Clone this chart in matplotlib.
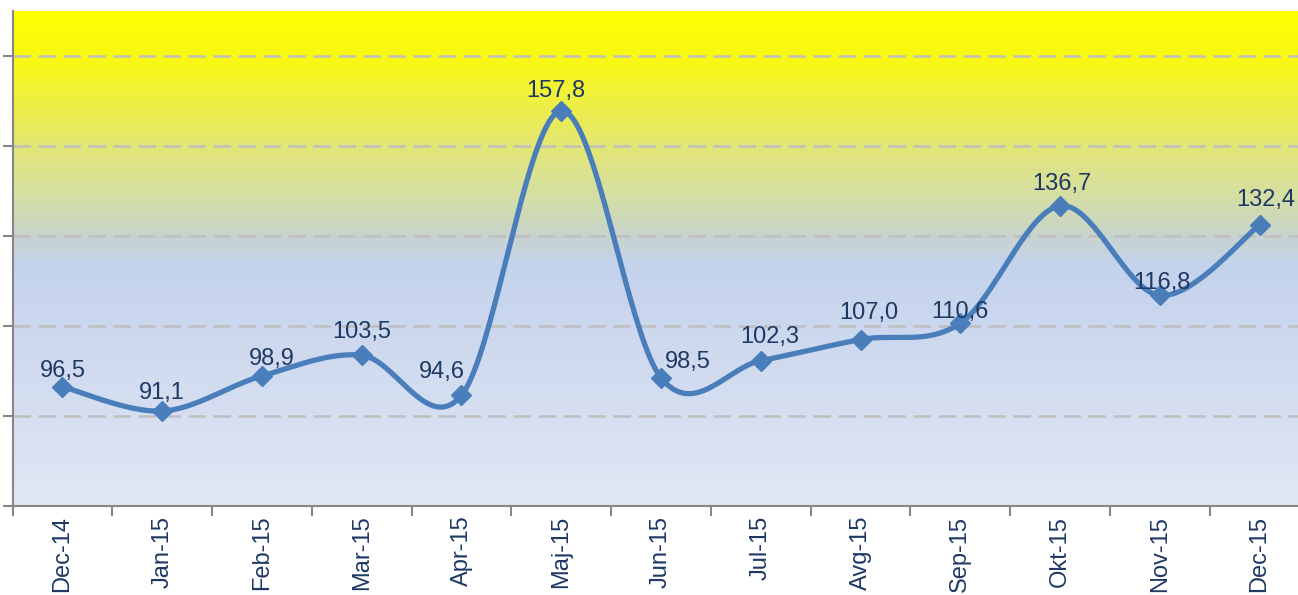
import matplotlib
matplotlib.use("Agg")
import matplotlib.pyplot as plt
import numpy as np
from matplotlib.colors import LinearSegmentedColormap

months = ['Dec-14', 'Jan-15', 'Feb-15', 'Mar-15', 'Apr-15', 'Maj-15', 'Jun-15',
          'Jul-15', 'Avg-15', 'Sep-15', 'Okt-15', 'Nov-15', 'Dec-15']
values = [96.5, 91.1, 98.9, 103.5, 94.6, 157.8, 98.5, 102.3, 107.0, 110.6, 136.7, 116.8, 132.4]
# label offsets in pixels (dx, dy) relative to the point
label_dx = [0, 0, 10, 0, -20, -5, 27, 9, 8, 0, 2, 2, 6]
label_dy = [16, 18, 17, 23, 23, 20, 16, 24, 26, 11, 22, 12, 25]

plt.rcParams['font.family'] = ['Liberation Sans', 'DejaVu Sans']

fig = plt.figure(figsize=(12.98, 5.95), dpi=100)
ax = fig.add_axes([12.5/1298, 89/595, 1297/1298, 495/595])

# background gradient
cmap = LinearSegmentedColormap.from_list('bg', [
    (0.0, '#FFFF00'), (0.10, '#F8F815'), (0.28, '#E2E678'), (0.38, '#D4DEA8'),
    (0.45, '#C8D4CB'), (0.51, '#C4D2EC'), (1.0, '#E1E7F4')])
grad = np.linspace(0, 1, 512).reshape(-1, 1)
ax.imshow(grad, cmap=cmap, extent=[0, 1, 0, 1], transform=ax.transAxes,
          aspect='auto', zorder=0, origin='upper')

# smoothed line (Excel-style bezier smoothing)
x = np.arange(len(values), dtype=float)
y = np.array(values)
px = np.concatenate([[x[0]], x, [x[-1]]])
py = np.concatenate([[y[0]], y, [y[-1]]])
sx, sy = [], []
t = np.linspace(0, 1, 40)
for i in range(1, len(px) - 2):
    p0, p1, p2, p3 = (px[i-1], py[i-1]), (px[i], py[i]), (px[i+1], py[i+1]), (px[i+2], py[i+2])
    c1 = (p1[0] + (p2[0] - p0[0]) / 6, p1[1] + (p2[1] - p0[1]) / 6)
    c2 = (p2[0] - (p3[0] - p1[0]) / 6, p2[1] - (p3[1] - p1[1]) / 6)
    bx = (1-t)**3*p1[0] + 3*(1-t)**2*t*c1[0] + 3*(1-t)*t**2*c2[0] + t**3*p2[0]
    by = (1-t)**3*p1[1] + 3*(1-t)**2*t*c1[1] + 3*(1-t)*t**2*c2[1] + t**3*p2[1]
    sx.extend(bx)
    sy.extend(by)
ax.plot(sx, sy, color='#4A7EBB', lw=3.8, zorder=3, solid_capstyle='round')
ax.plot(x, y, linestyle='none', marker='D', markersize=10.5, color='#4A7EBB', zorder=4)

for i, v in enumerate(values):
    ax.annotate(f'{v:.1f}'.replace('.', ','), (x[i], y[i]),
                xytext=(label_dx[i] * 0.72, label_dy[i] * 0.72), textcoords='offset points',
                ha='center', va='center', fontsize=17, color='#1F3864', zorder=5)

ax.set_xlim(-0.5, len(values) - 0.5)
ax.set_ylim(70, 180)
ax.set_yticks([70, 90, 110, 130, 150, 170])
ax.set_yticklabels([])
for yy in [90, 110, 130, 150, 170]:
    ax.axhline(yy, color='#BFBFBF', lw=1.8, dashes=(7, 3), zorder=1)

ax.set_xticks(x)
ax.set_xticklabels(months, rotation=90, fontsize=17, color='#1F3864')
ax.set_xticks(np.arange(-0.5, len(values), 1), minor=True)
ax.tick_params(axis='x', which='major', length=0, pad=7)
ax.tick_params(axis='x', which='minor', length=7, width=1.5, color='#868686')
ax.tick_params(axis='y', length=7, width=1.5, color='#868686')

for s in ['top', 'right']:
    ax.spines[s].set_visible(False)
for s in ['left', 'bottom']:
    ax.spines[s].set_color('#868686')
    ax.spines[s].set_linewidth(1.5)

fig.savefig('out.png', dpi=100)
